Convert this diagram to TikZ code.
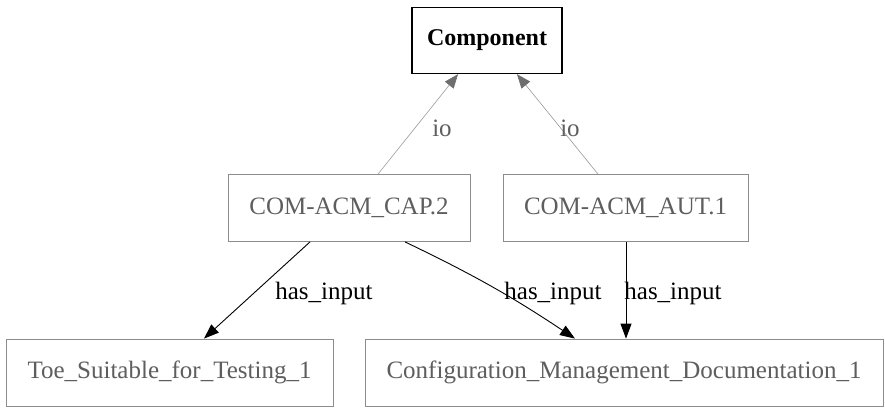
\documentclass[tikz,border=0pt]{standalone}
\usepackage{fontspec}
\setmainfont{Liberation Serif}
\usetikzlibrary{arrows.meta}
\definecolor{boxgray}{HTML}{8C8C8C}
\definecolor{txtgray}{HTML}{5E5E5E}
\definecolor{iogray}{HTML}{9A9A9A}
\definecolor{tipgray}{HTML}{6E6E6E}
\tikzset{
  topbox/.style={draw=black, line width=1.4pt, font=\fontsize{24}{26}\selectfont\bfseries,
    minimum width=#1, minimum height=66pt, inner sep=0pt},
  graybox/.style={draw=boxgray, line width=0.8pt, text=txtgray, font=\fontsize{25}{27}\selectfont,
    minimum width=#1, minimum height=67pt, inner sep=0pt},
  ioedge/.style={draw=iogray, line width=0.6pt,
    -{Triangle[length=14pt,width=11pt,color=tipgray]}},
  inedge/.style={draw=black, line width=0.9pt,
    -{Triangle[length=15pt,width=11pt]}},
  iolbl/.style={text=txtgray, font=\fontsize{25}{27}\selectfont, inner sep=0pt},
  inlbl/.style={text=black, font=\fontsize{25}{27}\selectfont, inner sep=0pt},
}
\begin{document}
\begin{tikzpicture}[x=1pt,y=-1pt]
  \useasboundingbox[fill=white] (0,0) rectangle (885,407);

  % nodes
  \node[topbox=150pt]  (comp) at (487,40.5) {Component};
  \node[graybox=242pt] (cap)  at (349,208)  {COM-ACM\_CAP.2};
  \node[graybox=245pt] (aut)  at (625.5,208) {COM-ACM\_AUT.1};
  \node[graybox=327pt] (toe)  at (169.5,372.5) {Toe\_Suitable\_for\_Testing\_1};
  \node[graybox=518pt] (cfg)  at (624,372.5)  {Configuration\_Management\_Documentation\_1};

  % io edges
  \draw[ioedge] ([xshift=29pt]cap.north) -- ([xshift=-29pt]comp.south);
  \draw[ioedge] ([xshift=-27.5pt]aut.north) -- ([xshift=30pt]comp.south);
  \node[iolbl] (io1) at (442,128) {io};
  \node[iolbl] (io2) at (570,128) {io};

  % has_input edges
  \draw[inedge] ([xshift=-39pt]cap.south) -- ([xshift=34.5pt]toe.north);
  \draw[inedge] ([xshift=56pt]cap.south) to[bend left=4] ([xshift=-49pt]cfg.north);
  \draw[inedge] ([xshift=0.5pt]aut.south) -- ([xshift=2pt]cfg.north);
  \node[inlbl] (hi1) at (324,293) {has\_input};
  \node[inlbl] (hi2) at (553,293) {has\_input};
  \node[inlbl] (hi3) at (673,293) {has\_input};
\end{tikzpicture}
\end{document}
